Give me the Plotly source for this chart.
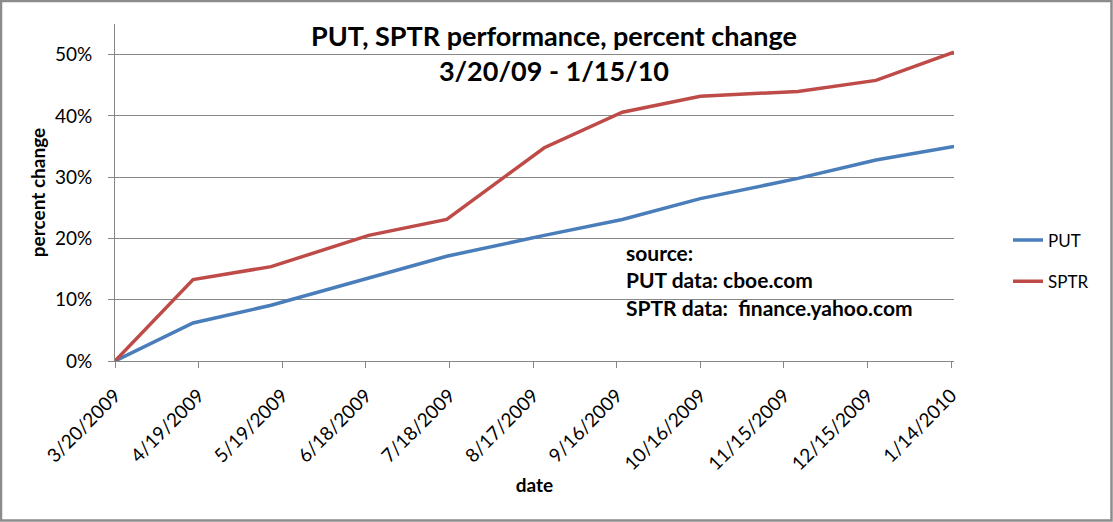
import plotly.graph_objects as go

# Data (option-expiration Fridays)
dates = ["2009-03-20", "2009-04-17", "2009-05-15", "2009-06-19", "2009-07-17",
         "2009-08-21", "2009-09-18", "2009-10-16", "2009-11-20", "2009-12-18",
         "2010-01-15"]
put_pct = [0.0, 0.062, 0.091, 0.136, 0.171, 0.205, 0.231, 0.265, 0.298, 0.328, 0.350]
sptr_pct = [0.0, 0.133, 0.154, 0.205, 0.231, 0.348, 0.406, 0.432, 0.440, 0.458, 0.504]

tick_dates = ["2009-03-20", "2009-04-19", "2009-05-19", "2009-06-18", "2009-07-18",
              "2009-08-17", "2009-09-16", "2009-10-16", "2009-11-15", "2009-12-15",
              "2010-01-14"]
tick_labels = ["3/20/2009", "4/19/2009", "5/19/2009", "6/18/2009", "7/18/2009",
               "8/17/2009", "9/16/2009", "10/16/2009", "11/15/2009", "12/15/2009",
               "1/14/2010"]
y_ticks = [0, 0.1, 0.2, 0.3, 0.4, 0.5]
y_labels = ["0%", "10%", "20%", "30%", "40%", "50%"]

FONT = "Lato"
GRID = "#878787"

fig = go.Figure()
fig.add_trace(go.Scatter(x=dates, y=put_pct, mode="lines", name="PUT",
                         legendgroup="a",
                         line=dict(color="#4A7EBB", width=3.5)))
fig.add_trace(go.Scatter(x=dates, y=sptr_pct, mode="lines", name="SPTR",
                         legendgroup="b",
                         line=dict(color="#BE4B48", width=3.5)))

W, H = 1113, 522
L, R, T, B = 115, 159, 24, 161
pw, ph = W - L - R, H - T - B


def px(x):
    return (x - L) / pw


def py(y):
    return (T + ph - y) / ph


fig.update_layout(
    width=W, height=H,
    margin=dict(l=L, r=R, t=T, b=B, autoexpand=False),
    paper_bgcolor="white", plot_bgcolor="white",
    font=dict(family=FONT, size=17, color="#000000"),
    showlegend=True,
    legend=dict(x=px(1008), y=py(261), xanchor="left", yanchor="middle",
                font=dict(family=FONT, size=17), tracegroupgap=16,
                bgcolor="rgba(0,0,0,0)"),
    xaxis=dict(
        type="date",
        range=["2009-03-20", "2010-01-15"],
        tickmode="array", tickvals=tick_dates, ticktext=tick_labels,
        tickangle=-45, tickfont=dict(family=FONT, size=19),
        ticks="outside", ticklen=6, tickcolor=GRID,
        ticklabelstandoff=9,
        showline=True, linecolor=GRID, linewidth=1,
        showgrid=False, zeroline=False,
        title=dict(text="<b>date</b>", font=dict(family=FONT, size=19), standoff=5),
    ),
    yaxis=dict(
        range=[0, 0.55],
        tickmode="array", tickvals=y_ticks, ticktext=y_labels,
        tickfont=dict(family=FONT, size=19),
        ticks="outside", ticklen=6, tickcolor=GRID,
        ticklabelstandoff=12,
        showline=True, linecolor=GRID, linewidth=1,
        showgrid=True, gridcolor=GRID, gridwidth=1,
        zeroline=False,
        title=dict(text="<b>percent change</b>", font=dict(family=FONT, size=19), standoff=4),
    ),
)

# chart title
fig.add_annotation(
    xref="paper", yref="paper", x=px(554), y=py(17), xanchor="center", yanchor="top",
    showarrow=False, align="center",
    text="<b>PUT, SPTR performance, percent change<br>3/20/09 - 1/15/10</b>",
    font=dict(family=FONT, size=27, color="#000000"),
)

# source note
fig.add_annotation(
    xref="paper", yref="paper",
    x=px(624), y=py(238), xanchor="left", yanchor="top",
    align="left", showarrow=False,
    text="<b>source:<br>PUT data: cboe.com<br>SPTR data:\u00a0 finance.yahoo.com</b>",
    font=dict(family=FONT, size=21, color="#000000"),
)

# outer chart border
fig.add_shape(type="rect", xref="paper", yref="paper",
              x0=px(1), x1=px(W - 1.5),
              y0=py(H - 1.5), y1=py(1),
              line=dict(color="#8C8C8C", width=2.5), layer="below")

fig.write_html("out.html", config={"displayModeBar": False},
               post_script="document.body.style.margin='0';")
